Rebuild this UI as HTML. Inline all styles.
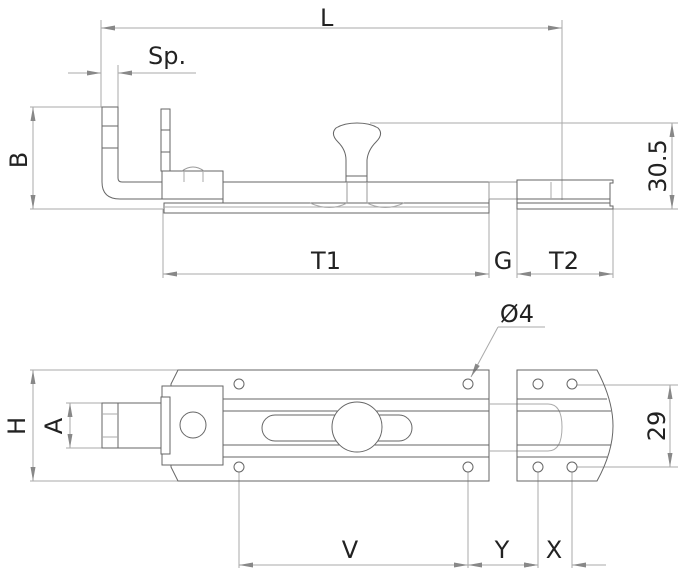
<!DOCTYPE html>
<html><head><style>
html,body{margin:0;padding:0;background:#fff;}
svg{display:block;}
text{font-family:"DejaVu Sans","Liberation Sans",sans-serif;fill:#222;font-size:24px;}
</style></head><body>
<svg width="679" height="571" viewBox="0 0 679 571" xmlns="http://www.w3.org/2000/svg">
<defs>
<marker id="a" markerWidth="14" markerHeight="6" refX="14" refY="3" orient="auto" markerUnits="userSpaceOnUse">
<path d="M0,0.5 L14,3 L0,5.5Z" fill="#888"/></marker>
</defs>
<g stroke="#aaa" stroke-width="1" fill="none">
<!-- L -->
<line x1="101" y1="20" x2="101" y2="107"/><line x1="562" y1="20" x2="562" y2="200"/>
<line x1="330" y1="28" x2="101" y2="28" marker-end="url(#a)"/>
<line x1="330" y1="28" x2="562" y2="28" marker-end="url(#a)"/>
<!-- Sp -->
<line x1="118" y1="65" x2="118" y2="107"/>
<line x1="68" y1="73" x2="101" y2="73" marker-end="url(#a)"/>
<line x1="196" y1="73" x2="118" y2="73" marker-end="url(#a)"/>
<!-- B -->
<line x1="30" y1="107" x2="102" y2="107"/><line x1="30" y1="209" x2="163" y2="209"/>
<line x1="33" y1="158" x2="33" y2="107" marker-end="url(#a)"/><line x1="33" y1="158" x2="33" y2="209" marker-end="url(#a)"/>
<!-- 30.5 -->
<line x1="370" y1="123" x2="678" y2="123"/><line x1="613" y1="209" x2="678" y2="209"/>
<line x1="672" y1="166" x2="672" y2="123" marker-end="url(#a)"/><line x1="672" y1="166" x2="672" y2="209" marker-end="url(#a)"/>
<!-- T1 G T2 -->
<line x1="163" y1="209" x2="163" y2="278"/><line x1="489" y1="209" x2="489" y2="278"/>
<line x1="517" y1="209" x2="517" y2="278"/><line x1="613" y1="209" x2="613" y2="278"/>
<line x1="326" y1="274" x2="163" y2="274" marker-end="url(#a)"/><line x1="326" y1="274" x2="489" y2="274" marker-end="url(#a)"/>
<line x1="565" y1="274" x2="517" y2="274" marker-end="url(#a)"/><line x1="565" y1="274" x2="613" y2="274" marker-end="url(#a)"/>
<!-- Ø4 -->
<line x1="498" y1="327" x2="545" y2="327"/>
<line x1="498" y1="327" x2="471" y2="377" marker-end="url(#a)"/>
<!-- H A -->
<line x1="30" y1="370" x2="178" y2="370"/><line x1="30" y1="481" x2="178" y2="481"/>
<line x1="33" y1="425" x2="33" y2="370" marker-end="url(#a)"/><line x1="33" y1="425" x2="33" y2="481" marker-end="url(#a)"/>
<line x1="66" y1="403" x2="102" y2="403"/><line x1="66" y1="448" x2="102" y2="448"/>
<line x1="70" y1="425" x2="70" y2="403" marker-end="url(#a)"/><line x1="70" y1="425" x2="70" y2="448" marker-end="url(#a)"/>
<!-- 29 -->
<line x1="577" y1="385" x2="678" y2="385"/><line x1="577" y1="467" x2="678" y2="467"/>
<line x1="670" y1="426" x2="670" y2="385" marker-end="url(#a)"/><line x1="670" y1="426" x2="670" y2="467" marker-end="url(#a)"/>
<!-- V Y X -->
<line x1="239" y1="472" x2="239" y2="568"/><line x1="468" y1="472" x2="468" y2="568"/>
<line x1="538" y1="472" x2="538" y2="568"/><line x1="572" y1="472" x2="572" y2="568"/>
<line x1="350" y1="565" x2="239" y2="565" marker-end="url(#a)"/><line x1="350" y1="565" x2="468" y2="565" marker-end="url(#a)"/>
<line x1="503" y1="565" x2="468" y2="565" marker-end="url(#a)"/><line x1="503" y1="565" x2="538" y2="565" marker-end="url(#a)"/>
<line x1="520" y1="565" x2="538" y2="565" marker-end="url(#a)"/>
<line x1="606" y1="565" x2="572" y2="565" marker-end="url(#a)"/>
</g>

<!-- side view -->
<g stroke="#666" stroke-width="1" fill="none">
<path d="M102,107 H118 V178 Q118,182 122,182 H162 V199 H120 Q102,199 102,182 Z"/>
<line x1="102" y1="126" x2="118" y2="126"/><line x1="102" y1="148" x2="118" y2="148"/>
<rect x="161" y="109" width="9" height="62"/>
<line x1="161" y1="130" x2="170" y2="130"/><line x1="161" y1="152" x2="170" y2="152"/>
<rect x="162" y="171" width="61" height="28"/>
<path d="M182,171 Q193,163 204,171" stroke="#999"/>
<line x1="184" y1="171" x2="184" y2="182" stroke="#aaa"/><line x1="203" y1="171" x2="203" y2="182" stroke="#aaa"/>
<rect x="223" y="182" width="266" height="21"/>
<rect x="164" y="203" width="325" height="10"/>
<line x1="164" y1="207" x2="489" y2="207" stroke="#aaa"/>
<path d="M310,203 Q330,212 347,203 M367,203 Q385,212 404,203" stroke="#aaa"/>
<line x1="347" y1="182" x2="347" y2="203" stroke="#999"/><line x1="367" y1="182" x2="367" y2="203" stroke="#999"/>
<path d="M346,182 V176 H367 V182 M346,176 V160 Q346,150 338,142 Q330,134 336,128 Q344,123 357,123 Q370,123 378,128 Q384,134 376,142 Q368,150 367,160 V176"/>
<rect x="489" y="182" width="28" height="17" stroke="#999"/>
<path d="M517,180 H613 V183 H610 V206 H613 V209 H517 Z"/>
<line x1="517" y1="199" x2="610" y2="199"/><line x1="517" y1="203" x2="610" y2="203"/>
<line x1="551" y1="182" x2="551" y2="199" stroke="#aaa"/>
</g>

<!-- top view -->
<g stroke="#666" stroke-width="1" fill="none">
<path d="M178,370 H489 V481 H178 L171,467 V384 Z"/>
<line x1="223" y1="399" x2="489" y2="399"/><line x1="223" y1="411" x2="489" y2="411"/>
<line x1="223" y1="445" x2="489" y2="445"/><line x1="223" y1="457" x2="489" y2="457"/>
<rect x="102" y="403" width="60" height="45"/>
<line x1="118" y1="403" x2="118" y2="448"/>
<line x1="102" y1="414" x2="118" y2="414" stroke="#aaa"/><line x1="102" y1="437" x2="118" y2="437" stroke="#aaa"/>
<rect x="162" y="386" width="61" height="79" fill="#fff"/>
<rect x="161" y="397" width="9" height="57" fill="#fff"/>
<circle cx="193" cy="425" r="13"/>
<rect x="262" y="415" width="150" height="26" rx="13"/>
<circle cx="357" cy="427" r="25" fill="#fff"/>
<circle cx="239" cy="384" r="5"/><circle cx="468" cy="384" r="5"/>
<circle cx="239" cy="467" r="5"/><circle cx="468" cy="467" r="5"/>
<path d="M489,404 H548 Q562,404 562,427 Q562,451 548,451 H489" stroke="#aaa"/>
<path d="M517,370 H597 Q613,400 613,426 Q613,452 597,481 H517 Z"/>
<line x1="517" y1="399" x2="607" y2="399"/><line x1="517" y1="411" x2="611" y2="411"/>
<line x1="517" y1="445" x2="611" y2="445"/><line x1="517" y1="457" x2="607" y2="457"/>
<circle cx="538" cy="384" r="5"/><circle cx="572" cy="384" r="5"/>
<circle cx="538" cy="467" r="5"/><circle cx="572" cy="467" r="5"/>
</g>

<text x="320" y="26">L</text>
<text x="148" y="64">Sp.</text>
<text transform="translate(27,160) rotate(-90)" text-anchor="middle">B</text>
<text transform="translate(666,166) rotate(-90)" text-anchor="middle">30.5</text>
<text x="326" y="269" text-anchor="middle">T1</text>
<text x="503" y="269" text-anchor="middle">G</text>
<text x="564" y="269" text-anchor="middle">T2</text>
<text x="517" y="322" text-anchor="middle">Ø4</text>
<text transform="translate(25,426) rotate(-90)" text-anchor="middle">H</text>
<text transform="translate(62,426) rotate(-90)" text-anchor="middle">A</text>
<text transform="translate(665,426) rotate(-90)" text-anchor="middle">29</text>
<text x="350" y="558" text-anchor="middle">V</text>
<text x="502" y="558" text-anchor="middle">Y</text>
<text x="554" y="558" text-anchor="middle">X</text>
</svg>
</body></html>
